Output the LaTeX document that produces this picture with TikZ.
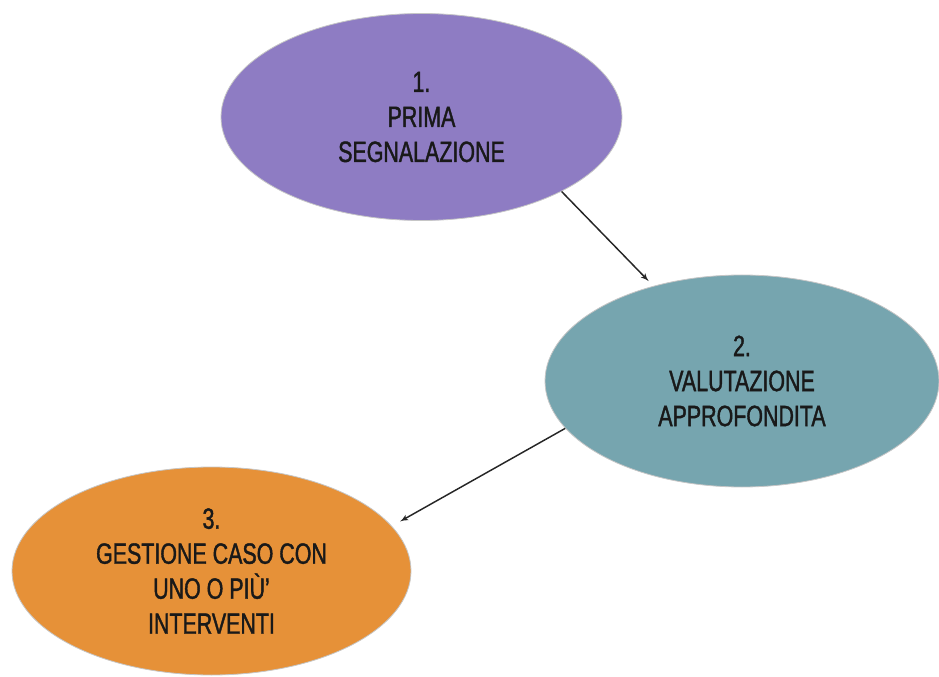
\documentclass[tikz,border=0pt]{standalone}
\usepackage{fontspec}
\setmainfont[FakeStretch=0.73, FakeBold=1.3]{Liberation Sans}
\usepackage{tikz}
\usetikzlibrary{shapes, arrows}
\definecolor{lilla}{HTML}{8E7CC3}
\definecolor{petrolio}{HTML}{76A5AF}
\definecolor{arancio}{HTML}{E69138}
\tikzstyle{phase} = [ ellipse, draw=gray!45, line width=0.6pt, inner sep=0pt, align=center, text=black!90, font=\fontsize{22}{26.25}\selectfont ]
\tikzstyle{line} = [ draw, -latex', line width=1.1pt, black!85, shorten >=5pt ]

\begin{document}
\begin{tikzpicture}[x=0.75pt, y=-0.75pt]
\useasboundingbox (0,0) rectangle (939,677);

% Fasi del percorso
\node [phase, fill=lilla, minimum width=300.75pt, minimum height=155.25pt] (prima) at (421.5,117) {1.\\PRIMA\\SEGNALAZIONE};
\node [phase, fill=petrolio, minimum width=295.5pt, minimum height=159pt] (valutazione) at (742,381) {2.\\VALUTAZIONE\\APPROFONDITA};
\node [phase, fill=arancio, minimum width=299.25pt, minimum height=156pt] (gestione) at (211.5,571) {3.\\GESTIONE CASO CON\\UNO O PIÙ’\\INTERVENTI};
\path [line] (prima.-28) -- (valutazione.133) ;
\path [line, shorten >=7pt] (valutazione.-165) -- (gestione.14) ;
\end{tikzpicture}
\end{document}
